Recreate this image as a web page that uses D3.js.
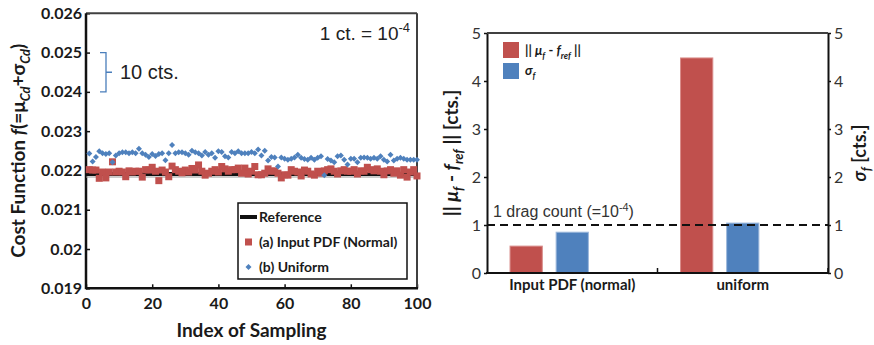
<!DOCTYPE html>
<html>
<head>
<meta charset="utf-8">
<script src="https://cdn.jsdelivr.net/npm/d3@7"></script>
<style>
  body { margin: 0; background: #fff; }
  svg { display: block; }
</style>
</head>
<body>
<div id="chart"></div>
<script>
var width = 874, height = 345;

// left panel: cost function per sample
var xTicks = [0, 20, 40, 60, 80, 100];
var yTicks = [0.019, 0.02, 0.021, 0.022, 0.023, 0.024, 0.025, 0.026];
var referenceValue = [0.02191];
var normalValues = [
    0.02202, 0.02201, 0.02201, 0.02180, 0.02196, 0.02181, 0.02196, 0.02222, 0.02196, 0.02198,
    0.02196, 0.02184, 0.02199, 0.02196, 0.02198, 0.02198, 0.02183, 0.02202, 0.02201, 0.02208,
    0.02198, 0.02174, 0.02201, 0.02196, 0.02184, 0.02211, 0.02202, 0.02198, 0.02194, 0.02201,
    0.02196, 0.02205, 0.02201, 0.02214, 0.02198, 0.02188, 0.02193, 0.02198, 0.02202, 0.02196,
    0.02210, 0.02204, 0.02198, 0.02202, 0.02202, 0.02206, 0.02193, 0.02206, 0.02191, 0.02198,
    0.02210, 0.02189, 0.02189, 0.02193, 0.02204, 0.02198, 0.02199, 0.02193, 0.02181, 0.02189,
    0.02188, 0.02202, 0.02198, 0.02196, 0.02186, 0.02201, 0.02198, 0.02191, 0.02188, 0.02198,
    0.02193, 0.02199, 0.02202, 0.02204, 0.02198, 0.02191, 0.02199, 0.02202, 0.02198, 0.02198,
    0.02202, 0.02191, 0.02199, 0.02198, 0.02208, 0.02202, 0.02199, 0.02204, 0.02198, 0.02189,
    0.02199, 0.02202, 0.02193, 0.02199, 0.02188, 0.02202, 0.02183, 0.02196, 0.02202, 0.02186
];
var uniformValues = [
    0.02243, 0.02223, 0.02234, 0.02249, 0.02244, 0.02242, 0.02244, 0.02221, 0.02238, 0.02244,
    0.02246, 0.02246, 0.02244, 0.02246, 0.02244, 0.02255, 0.02244, 0.02240, 0.02234, 0.02242,
    0.02237, 0.02242, 0.02244, 0.02226, 0.02244, 0.02265, 0.02244, 0.02246, 0.02246, 0.02244,
    0.02240, 0.02250, 0.02246, 0.02244, 0.02238, 0.02247, 0.02240, 0.02244, 0.02232, 0.02249,
    0.02247, 0.02236, 0.02233, 0.02247, 0.02244, 0.02249, 0.02244, 0.02244, 0.02244, 0.02247,
    0.02244, 0.02253, 0.02238, 0.02250, 0.02225, 0.02234, 0.02233, 0.02210, 0.02233, 0.02230,
    0.02227, 0.02230, 0.02233, 0.02240, 0.02232, 0.02229, 0.02227, 0.02232, 0.02227, 0.02232,
    0.02236, 0.02188, 0.02229, 0.02225, 0.02221, 0.02236, 0.02238, 0.02227, 0.02215, 0.02230,
    0.02230, 0.02221, 0.02232, 0.02233, 0.02232, 0.02230, 0.02232, 0.02230, 0.02236, 0.02227,
    0.02223, 0.02240, 0.02225, 0.02230, 0.02232, 0.02230, 0.02227, 0.02227, 0.02227, 0.02227
];
var bracketRange = [0.024, 0.025];

// right panel: error and spread per input distribution
var barCategories = ["Input PDF (normal)", "uniform"];
var errorValues = [0.56, 4.48];
var sigmaValues = [0.85, 1.04];
var barTicks = [0, 1, 2, 3, 4, 5];
var dragCount = [1];

var red = "#C0504D", blue = "#4F81BD";
var calibri = "Lato, 'Noto Sans', sans-serif";
var arial = "'Liberation Sans', Arial, sans-serif";

var svg = d3.select("#chart").append("svg")
    .attr("width", width)
    .attr("height", height);

// writes text with sub / superscript pieces
function richText(textSel, parts, size) {
    var cur = 0;
    parts.forEach(function(p) {
        var shift = p.sub ? size * 0.28 : (p.sup ? -size * 0.4 : 0);
        var ts = textSel.append("tspan").text(p.t).attr("dy", shift - cur);
        if (p.sub || p.sup) ts.attr("font-size", size * 0.68);
        if (p.it) ts.attr("font-style", "italic");
        cur = shift;
    });
    return textSel;
}

////////////////////////////////////////////////////////////////////////////////////////////////
// left panel

var x = d3.scaleLinear().domain([0, 100]).range([86, 417]);
var y = d3.scaleLinear().domain([0.019, 0.026]).range([288.3, 13.3]);

var gx = svg.append("g")
    .attr("transform", "translate(0," + y.range()[0] + ")")
    .call(d3.axisBottom(x).tickValues(xTicks).tickSizeInner(-4).tickSizeOuter(0).tickPadding(9));
var gy = svg.append("g")
    .attr("transform", "translate(" + x.range()[0] + ",0)")
    .call(d3.axisLeft(y).tickValues(yTicks).tickSizeInner(-4).tickSizeOuter(0).tickPadding(4)
        .tickFormat(function(d) { return String(+d.toFixed(3)); }));
[gx, gy].forEach(function(g) {
    g.select(".domain").remove();
    g.selectAll(".tick line").attr("stroke", "#111").attr("stroke-width", 1.5);
    g.selectAll(".tick text")
        .attr("font-family", calibri)
        .attr("font-weight", "bold")
        .attr("font-size", 16)
        .attr("fill", "#1a1a1a");
});

// frame
svg.append("line").attr("x1", x(0)).attr("x2", x(100)).attr("y1", y(0.026)).attr("y2", y(0.026))
    .attr("stroke", "#404040").attr("stroke-width", 2);
svg.append("line").attr("x1", x(100)).attr("x2", x(100)).attr("y1", y(0.026)).attr("y2", y(0.019))
    .attr("stroke", "#404040").attr("stroke-width", 2);
svg.append("line").attr("x1", x(0)).attr("x2", x(0)).attr("y1", y(0.026)).attr("y2", y(0.019) + 1)
    .attr("stroke", "#111").attr("stroke-width", 2.5);
svg.append("line").attr("x1", x(0)).attr("x2", x(100) + 1).attr("y1", y(0.019)).attr("y2", y(0.019))
    .attr("stroke", "#111").attr("stroke-width", 2.5);

// reference
svg.append("g").selectAll("line.shadow")
    .data(referenceValue)
    .enter().append("line")
        .attr("x1", x(0)).attr("x2", x(100))
        .attr("y1", function(d) { return y(d) + 3; })
        .attr("y2", function(d) { return y(d) + 3; })
        .attr("stroke", "#9a9a9a").attr("stroke-width", 1.2);
svg.append("g").selectAll("line.ref")
    .data(referenceValue)
    .enter().append("line")
        .attr("x1", x(0)).attr("x2", x(100))
        .attr("y1", function(d) { return y(d); })
        .attr("y2", function(d) { return y(d); })
        .attr("stroke", "#111").attr("stroke-width", 4);

svg.append("g").selectAll("rect")
    .data(normalValues)
    .enter().append("rect")
        .attr("x", function(d, i) { return x(i + 1) - 3.5; })
        .attr("y", function(d) { return y(d) - 3.5; })
        .attr("width", 7)
        .attr("height", 7)
        .attr("fill", red);

var diamond = d3.symbol().type(d3.symbolSquare).size(18);
svg.append("g").selectAll("path")
    .data(uniformValues)
    .enter().append("path")
        .attr("d", diamond)
        .attr("transform", function(d, i) { return "translate(" + x(i + 1) + "," + y(d) + ") rotate(45)"; })
        .attr("fill", blue);

// 10 cts. bracket
var b0 = y(bracketRange[1]), b1 = y(bracketRange[0]);
svg.append("path")
    .attr("d", "M100," + b0 + "H106V" + b1 + "H100M106," + (b0 + b1) / 2 + "H112")
    .attr("fill", "none")
    .attr("stroke", "#4a7ebb")
    .attr("stroke-width", 1.3);
svg.append("text")
    .attr("x", 120).attr("y", (b0 + b1) / 2 + 7)
    .attr("font-family", arial).attr("font-size", 20).attr("fill", "#222")
    .text("10 cts.");

richText(svg.append("text")
    .attr("x", 410).attr("y", 40)
    .attr("text-anchor", "end")
    .attr("font-family", arial).attr("font-size", 19).attr("fill", "#222"),
    [{t: "1 ct. = 10"}, {t: "-4", sup: true}], 19);

// axis titles
svg.append("text")
    .attr("x", (x(0) + x(100)) / 2).attr("y", 337)
    .attr("text-anchor", "middle")
    .attr("font-family", calibri).attr("font-weight", "bold").attr("font-size", 19).attr("fill", "#1a1a1a")
    .text("Index of Sampling");

richText(svg.append("text")
    .attr("transform", "translate(25," + (y(0.019) + y(0.026)) / 2 + ") rotate(-90)")
    .attr("text-anchor", "middle")
    .attr("font-family", calibri).attr("font-weight", "bold").attr("font-size", 19).attr("fill", "#1a1a1a"),
    [{t: "Cost Function "}, {t: "f", it: true}, {t: "(=μ"}, {t: "Cd", sub: true, it: true},
     {t: "+σ"}, {t: "Cd", sub: true, it: true}, {t: ")"}], 19);

// legend
var legend = svg.append("g").attr("transform", "translate(238,203)");
legend.append("rect")
    .attr("width", 169).attr("height", 76)
    .attr("fill", "#fff").attr("stroke", "#111").attr("stroke-width", 1.5);
var legendItems = ["Reference", "(a) Input PDF (Normal)", "(b) Uniform"];
var legendRows = legend.selectAll("g.row")
    .data(legendItems)
    .enter().append("g")
        .attr("transform", function(d, i) { return "translate(0," + (14 + i * 25) + ")"; });
legendRows.append("text")
    .attr("x", 21).attr("y", 5)
    .attr("font-family", calibri).attr("font-weight", "bold").attr("font-size", 14).attr("fill", "#1a1a1a")
    .text(function(d) { return d; });
legendRows.filter(function(d, i) { return i === 0; }).append("line")
    .attr("x1", 2).attr("x2", 19).attr("stroke", "#111").attr("stroke-width", 4);
legendRows.filter(function(d, i) { return i === 1; }).append("rect")
    .attr("x", 7).attr("y", -3.5).attr("width", 7).attr("height", 7).attr("fill", red);
legendRows.filter(function(d, i) { return i === 2; }).append("path")
    .attr("d", diamond).attr("transform", "translate(10.5,0) rotate(45)").attr("fill", blue);

////////////////////////////////////////////////////////////////////////////////////////////////
// right panel

var x0 = d3.scaleBand().domain(barCategories).range([487, 828]);
var x1 = d3.scaleBand().domain(["err", "sigma", "spare"])
    .range([0, x0.bandwidth()]).paddingInner(0.3).paddingOuter(0.5);
var yb = d3.scaleLinear().domain([0, 5]).range([273, 33]);

var bars = svg.append("g").selectAll("g")
    .data(barCategories)
    .enter().append("g")
        .attr("transform", function(c) { return "translate(" + x0(c) + ",0)"; })
    .selectAll("rect")
    .data(function(c, i) {
        return [{key: "err", value: errorValues[i]}, {key: "sigma", value: sigmaValues[i]}];
    })
    .enter().append("rect")
        .attr("x", function(d) { return x1(d.key); })
        .attr("y", function(d) { return yb(d.value); })
        .attr("width", x1.bandwidth())
        .attr("height", function(d) { return yb(0) - yb(d.value); })
        .attr("fill", function(d) { return d.key === "err" ? red : blue; })
        .attr("stroke", function(d) { return d.key === "err" ? "#d98b89" : "#9db8dc"; })
        .attr("stroke-width", 1);

// 1 drag count line
svg.append("g").selectAll("line")
    .data(dragCount)
    .enter().append("line")
        .attr("x1", x0.range()[0]).attr("x2", x0.range()[1])
        .attr("y1", function(d) { return yb(d); })
        .attr("y2", function(d) { return yb(d); })
        .attr("stroke", "#111").attr("stroke-width", 2).attr("stroke-dasharray", "8,5");
richText(svg.append("text")
    .attr("x", 493).attr("y", yb(dragCount[0]) - 8)
    .attr("font-family", arial).attr("font-size", 16).attr("fill", "#333"),
    [{t: "1 drag count (=10"}, {t: "-4", sup: true}, {t: ")"}], 16);

var gl = svg.append("g")
    .attr("transform", "translate(" + x0.range()[0] + ",0)")
    .call(d3.axisLeft(yb).tickValues(barTicks).tickFormat(d3.format("d"))
        .tickSizeInner(3).tickSizeOuter(0).tickPadding(3));
var gr = svg.append("g")
    .attr("transform", "translate(" + x0.range()[1] + ",0)")
    .call(d3.axisRight(yb).tickValues(barTicks).tickFormat(d3.format("d"))
        .tickSizeInner(3).tickSizeOuter(0).tickPadding(3));
[gl, gr].forEach(function(g) {
    g.select(".domain").attr("stroke", "#111").attr("stroke-width", 2);
    g.selectAll(".tick line").attr("stroke", "#111").attr("stroke-width", 1.5);
    g.selectAll(".tick text")
        .attr("font-family", calibri)
        .attr("font-size", 16)
        .attr("fill", "#333");
});
svg.append("line")
    .attr("x1", x0.range()[0]).attr("x2", x0.range()[1]).attr("y1", yb(5)).attr("y2", yb(5))
    .attr("stroke", "#404040").attr("stroke-width", 2);
svg.append("line")
    .attr("x1", x0.range()[0] - 1).attr("x2", x0.range()[1] + 1).attr("y1", yb(0)).attr("y2", yb(0))
    .attr("stroke", "#111").attr("stroke-width", 2);
svg.append("g").selectAll("line")
    .data(barCategories)
    .enter().append("line")
        .attr("x1", function(c) { return x0(c) + x0.bandwidth(); })
        .attr("x2", function(c) { return x0(c) + x0.bandwidth(); })
        .attr("y1", yb(0)).attr("y2", yb(0) - 5)
        .attr("stroke", "#111").attr("stroke-width", 1.5);

svg.append("g").selectAll("text")
    .data(barCategories)
    .enter().append("text")
        .attr("x", function(c) { return x0(c) + x0.bandwidth() / 2; })
        .attr("y", 290)
        .attr("text-anchor", "middle")
        .attr("font-family", calibri).attr("font-weight", "bold").attr("font-size", 15).attr("fill", "#1a1a1a")
        .text(function(c) { return c; });

// legend
var barLegend = svg.append("g").attr("transform", "translate(503,42)");
barLegend.append("rect").attr("width", 16).attr("height", 16).attr("fill", red);
barLegend.append("rect").attr("y", 21).attr("width", 16).attr("height", 16).attr("fill", blue);
richText(barLegend.append("text")
    .attr("x", 22).attr("y", 13)
    .attr("font-family", calibri).attr("font-weight", "bold").attr("font-size", 13).attr("fill", "#1a1a1a"),
    [{t: "|| "}, {t: "μ", it: true}, {t: "f", sub: true, it: true}, {t: " - "}, {t: "f", it: true},
     {t: "ref", sub: true, it: true}, {t: " ||"}], 13);
richText(barLegend.append("text")
    .attr("x", 22).attr("y", 33)
    .attr("font-family", calibri).attr("font-weight", "bold").attr("font-size", 13).attr("fill", "#1a1a1a"),
    [{t: "σ", it: true}, {t: "f", sub: true, it: true}], 13);

// axis titles
richText(svg.append("text")
    .attr("transform", "translate(458," + (yb(0) + yb(5)) / 2 + ") rotate(-90)")
    .attr("text-anchor", "middle")
    .attr("font-family", calibri).attr("font-weight", "bold").attr("font-size", 19).attr("fill", "#1a1a1a"),
    [{t: "|| "}, {t: "μ", it: true}, {t: "f", sub: true, it: true}, {t: " - "}, {t: "f", it: true},
     {t: "ref", sub: true, it: true}, {t: " || [cts.]"}], 19);
richText(svg.append("text")
    .attr("transform", "translate(866," + (yb(0) + yb(5)) / 2 + ") rotate(-90)")
    .attr("text-anchor", "middle")
    .attr("font-family", calibri).attr("font-weight", "bold").attr("font-size", 18).attr("fill", "#1a1a1a"),
    [{t: "σ", it: true}, {t: "f", sub: true, it: true}, {t: " [cts.]"}], 18);
</script>
</body>
</html>
